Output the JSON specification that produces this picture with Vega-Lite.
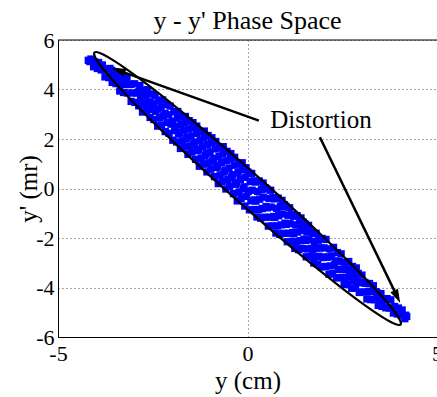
{
"$schema":"https://vega.github.io/schema/vega-lite/v6.json",
"width":379,"height":297,
"autosize":{"type":"none"},
"padding":{"left":58,"top":40,"right":0,"bottom":60},
"background":"white",
"title":{"text":"y - y' Phase Space","font":"Liberation Serif","fontSize":26,"fontWeight":"normal","color":"black","anchor":"middle","frame":"group","offset":-5},
"config":{"view":{"stroke":null},
"axis":{"grid":true,"gridColor":"#000","gridDash":[1,3],"gridWidth":1,"gridOpacity":0.7,"domainColor":"black","domainWidth":1,"ticks":false,"labelFont":"Liberation Serif","labelFontSize":22,"labelColor":"black","labelFlush":false,"labelOverlap":false,"labelExpr":"toString(datum.value)","titleFont":"Liberation Serif","titleFontSize":25,"titleFontWeight":"normal","titleColor":"black"}},
"datasets":{
"pts":[
{"x":0.05,"y":-0.86},{"x":0.09,"y":-0.50},{"x":0.02,"y":-0.11},{"x":0.07,"y":0.28},{"x":0.01,"y":0.66},
{"x":0.15,"y":-0.85},{"x":0.19,"y":-0.46},{"x":0.12,"y":-0.07},{"x":0.17,"y":0.31},{"x":0.11,"y":0.61},
{"x":0.25,"y":-1.15},{"x":0.29,"y":-0.85},{"x":0.22,"y":-0.51},{"x":0.27,"y":-0.12},{"x":0.21,"y":0.26},
{"x":0.35,"y":-1.20},{"x":0.39,"y":-0.81},{"x":0.32,"y":-0.43},{"x":0.37,"y":-0.04},{"x":0.31,"y":0.30},
{"x":0.45,"y":-1.16},{"x":0.49,"y":-0.73},{"x":0.42,"y":-0.35},{"x":0.47,"y":0.03},{"x":0.41,"y":0.22},
{"x":0.55,"y":-1.52},{"x":0.59,"y":-1.16},{"x":0.52,"y":-0.78},{"x":0.57,"y":-0.40},{"x":0.51,"y":-0.02},
{"x":0.65,"y":-1.51},{"x":0.69,"y":-1.13},{"x":0.62,"y":-0.75},{"x":0.67,"y":-0.37},{"x":0.61,"y":-0.07},
{"x":0.75,"y":-1.80},{"x":0.79,"y":-1.51},{"x":0.72,"y":-1.17},{"x":0.77,"y":-0.80},{"x":0.71,"y":-0.42},
{"x":0.85,"y":-1.85},{"x":0.89,"y":-1.47},{"x":0.82,"y":-1.10},{"x":0.87,"y":-0.73},{"x":0.81,"y":-0.39},
{"x":0.95,"y":-1.81},{"x":0.99,"y":-1.40},{"x":0.92,"y":-1.03},{"x":0.97,"y":-0.66},{"x":0.91,"y":-0.48},
{"x":1.05,"y":-2.15},{"x":1.09,"y":-1.81},{"x":1.02,"y":-1.45},{"x":1.07,"y":-1.08},{"x":1.01,"y":-0.72},
{"x":1.15,"y":-2.14},{"x":1.19,"y":-1.78},{"x":1.12,"y":-1.42},{"x":1.17,"y":-1.06},{"x":1.11,"y":-0.78},
{"x":1.25,"y":-2.42},{"x":1.29,"y":-2.15},{"x":1.22,"y":-1.83},{"x":1.27,"y":-1.47},{"x":1.21,"y":-1.12},
{"x":1.35,"y":-2.47},{"x":1.39,"y":-2.11},{"x":1.32,"y":-1.76},{"x":1.37,"y":-1.41},{"x":1.31,"y":-1.10},
{"x":1.45,"y":-2.43},{"x":1.49,"y":-2.05},{"x":1.42,"y":-1.70},{"x":1.47,"y":-1.36},{"x":1.41,"y":-1.19},
{"x":1.55,"y":-2.76},{"x":1.59,"y":-2.44},{"x":1.52,"y":-2.10},{"x":1.57,"y":-1.76},{"x":1.51,"y":-1.42},
{"x":1.65,"y":-2.75},{"x":1.69,"y":-2.42},{"x":1.62,"y":-2.08},{"x":1.67,"y":-1.75},{"x":1.61,"y":-1.49},
{"x":1.75,"y":-3.01},{"x":1.79,"y":-2.76},{"x":1.72,"y":-2.47},{"x":1.77,"y":-2.14},{"x":1.71,"y":-1.81},
{"x":1.85,"y":-3.06},{"x":1.89,"y":-2.74},{"x":1.82,"y":-2.41},{"x":1.87,"y":-2.09},{"x":1.81,"y":-1.81},
{"x":1.95,"y":-3.17},{"x":1.99,"y":-2.79},{"x":1.92,"y":-2.40},{"x":1.97,"y":-2.02},
{"x":2.05,"y":-3.15},{"x":2.09,"y":-2.77},{"x":2.02,"y":-2.40},{"x":2.07,"y":-2.06},
{"x":2.15,"y":-3.46},{"x":2.19,"y":-3.13},{"x":2.12,"y":-2.77},{"x":2.17,"y":-2.44},
{"x":2.25,"y":-3.44},{"x":2.29,"y":-3.09},{"x":2.22,"y":-2.73},{"x":2.27,"y":-2.38},
{"x":2.35,"y":-3.61},{"x":2.39,"y":-3.27},{"x":2.32,"y":-2.93},{"x":2.37,"y":-2.59},
{"x":2.45,"y":-3.60},{"x":2.49,"y":-3.27},{"x":2.42,"y":-2.94},{"x":2.47,"y":-2.64},
{"x":2.55,"y":-3.88},{"x":2.59,"y":-3.59},{"x":2.52,"y":-3.27},{"x":2.57,"y":-2.98},
{"x":2.65,"y":-3.87},{"x":2.69,"y":-3.56},{"x":2.62,"y":-3.26},{"x":2.67,"y":-2.95},
{"x":2.75,"y":-4.03},{"x":2.79,"y":-3.73},{"x":2.72,"y":-3.44},{"x":2.77,"y":-3.15},
{"x":2.85,"y":-4.03},{"x":2.89,"y":-3.75},{"x":2.82,"y":-3.47},{"x":2.87,"y":-3.21},
{"x":2.95,"y":-4.20},{"x":2.99,"y":-3.81},{"x":2.92,"y":-3.43},
{"x":3.05,"y":-4.18},{"x":3.09,"y":-3.80},{"x":3.02,"y":-3.50},
{"x":3.15,"y":-4.46},{"x":3.19,"y":-4.16},{"x":3.12,"y":-3.83},
{"x":3.25,"y":-4.49},{"x":3.29,"y":-4.17},{"x":3.22,"y":-3.84},
{"x":3.35,"y":-4.49},{"x":3.39,"y":-4.17},{"x":3.32,"y":-3.93},
{"x":3.45,"y":-4.72},{"x":3.49,"y":-4.48},{"x":3.42,"y":-4.22},
{"x":3.55,"y":-4.76},{"x":3.59,"y":-4.51},{"x":3.52,"y":-4.25},
{"x":3.65,"y":-4.82},{"x":3.68,"y":-4.45},
{"x":3.75,"y":-4.83},{"x":3.78,"y":-4.50},
{"x":3.85,"y":-5.03},{"x":3.88,"y":-4.77},
{"x":3.95,"y":-5.07},{"x":3.98,"y":-4.83},
{"x":4.05,"y":-5.11},{"x":4.08,"y":-4.91},
{"x":4.15,"y":-5.26},{"x":4.17,"y":-5.12},{"x":4.2,"y":-5.17},
{"x":-0.07,"y":-0.71},{"x":-0.02,"y":-0.32},{"x":-0.09,"y":0.07},{"x":-0.05,"y":0.45},{"x":-0.04,"y":0.84},
{"x":-0.17,"y":-0.40},{"x":-0.12,"y":-0.01},{"x":-0.19,"y":0.37},{"x":-0.15,"y":0.76},{"x":-0.14,"y":1.04},
{"x":-0.27,"y":-0.50},{"x":-0.22,"y":-0.14},{"x":-0.29,"y":0.25},{"x":-0.25,"y":0.64},{"x":-0.24,"y":1.02},
{"x":-0.37,"y":-0.21},{"x":-0.32,"y":0.17},{"x":-0.39,"y":0.56},{"x":-0.35,"y":0.94},{"x":-0.34,"y":1.26},
{"x":-0.47,"y":0.09},{"x":-0.42,"y":0.44},{"x":-0.49,"y":0.82},{"x":-0.45,"y":1.20},{"x":-0.44,"y":1.41},
{"x":-0.57,"y":-0.02},{"x":-0.52,"y":0.36},{"x":-0.59,"y":0.74},{"x":-0.55,"y":1.12},{"x":-0.54,"y":1.50},
{"x":-0.67,"y":0.28},{"x":-0.62,"y":0.66},{"x":-0.69,"y":1.04},{"x":-0.65,"y":1.42},{"x":-0.64,"y":1.69},
{"x":-0.77,"y":0.20},{"x":-0.72,"y":0.55},{"x":-0.79,"y":0.92},{"x":-0.75,"y":1.30},{"x":-0.74,"y":1.68},
{"x":-0.87,"y":0.48},{"x":-0.82,"y":0.85},{"x":-0.89,"y":1.22},{"x":-0.85,"y":1.60},{"x":-0.84,"y":1.90},
{"x":-0.97,"y":0.78},{"x":-0.92,"y":1.11},{"x":-0.99,"y":1.48},{"x":-0.95,"y":1.85},{"x":-0.94,"y":2.05},
{"x":-1.07,"y":0.67},{"x":-1.02,"y":1.04},{"x":-1.09,"y":1.41},{"x":-1.05,"y":1.77},{"x":-1.04,"y":2.14},
{"x":-1.17,"y":0.98},{"x":-1.12,"y":1.34},{"x":-1.19,"y":1.70},{"x":-1.15,"y":2.06},{"x":-1.14,"y":2.32},
{"x":-1.27,"y":0.90},{"x":-1.22,"y":1.23},{"x":-1.29,"y":1.59},{"x":-1.25,"y":1.95},{"x":-1.24,"y":2.30},
{"x":-1.37,"y":1.18},{"x":-1.32,"y":1.53},{"x":-1.39,"y":1.88},{"x":-1.35,"y":2.23},{"x":-1.34,"y":2.52},
{"x":-1.47,"y":1.47},{"x":-1.42,"y":1.78},{"x":-1.49,"y":2.12},{"x":-1.45,"y":2.47},{"x":-1.44,"y":2.66},
{"x":-1.57,"y":1.38},{"x":-1.52,"y":1.72},{"x":-1.59,"y":2.06},{"x":-1.55,"y":2.40},{"x":-1.54,"y":2.74},
{"x":-1.67,"y":1.67},{"x":-1.62,"y":2.01},{"x":-1.69,"y":2.34},{"x":-1.65,"y":2.67},{"x":-1.64,"y":2.91},
{"x":-1.77,"y":1.62},{"x":-1.72,"y":1.92},{"x":-1.79,"y":2.25},{"x":-1.75,"y":2.58},{"x":-1.74,"y":2.90},
{"x":-1.87,"y":1.88},{"x":-1.82,"y":2.20},{"x":-1.89,"y":2.52},{"x":-1.85,"y":2.84},{"x":-1.84,"y":3.11},
{"x":-1.97,"y":1.95},{"x":-1.92,"y":2.34},{"x":-1.98,"y":2.72},{"x":-1.94,"y":3.10},
{"x":-2.07,"y":2.23},{"x":-2.02,"y":2.60},{"x":-2.08,"y":2.98},{"x":-2.04,"y":3.33},
{"x":-2.17,"y":2.30},{"x":-2.12,"y":2.67},{"x":-2.18,"y":3.03},{"x":-2.14,"y":3.39},
{"x":-2.27,"y":2.57},{"x":-2.22,"y":2.93},{"x":-2.28,"y":3.28},{"x":-2.24,"y":3.58},
{"x":-2.37,"y":2.52},{"x":-2.32,"y":2.87},{"x":-2.38,"y":3.21},{"x":-2.34,"y":3.55},
{"x":-2.47,"y":2.79},{"x":-2.42,"y":3.12},{"x":-2.48,"y":3.45},{"x":-2.44,"y":3.76},
{"x":-2.57,"y":2.87},{"x":-2.52,"y":3.19},{"x":-2.58,"y":3.50},{"x":-2.54,"y":3.82},
{"x":-2.67,"y":3.12},{"x":-2.62,"y":3.43},{"x":-2.68,"y":3.73},{"x":-2.64,"y":3.99},
{"x":-2.77,"y":3.09},{"x":-2.72,"y":3.39},{"x":-2.78,"y":3.68},{"x":-2.74,"y":3.97},
{"x":-2.87,"y":3.34},{"x":-2.82,"y":3.62},{"x":-2.88,"y":3.90},{"x":-2.84,"y":4.16},
{"x":-2.97,"y":3.48},{"x":-2.92,"y":3.86},{"x":-2.98,"y":4.23},
{"x":-3.07,"y":3.52},{"x":-3.02,"y":3.86},{"x":-3.08,"y":4.21},
{"x":-3.17,"y":3.86},{"x":-3.12,"y":4.20},{"x":-3.18,"y":4.46},
{"x":-3.27,"y":3.88},{"x":-3.22,"y":4.21},{"x":-3.28,"y":4.51},
{"x":-3.37,"y":3.94},{"x":-3.32,"y":4.22},{"x":-3.38,"y":4.50},
{"x":-3.47,"y":4.24},{"x":-3.42,"y":4.52},{"x":-3.48,"y":4.72},
{"x":-3.57,"y":4.29},{"x":-3.52,"y":4.54},{"x":-3.58,"y":4.77},
{"x":-3.66,"y":4.48},{"x":-3.63,"y":4.85},
{"x":-3.76,"y":4.51},{"x":-3.73,"y":4.83},
{"x":-3.86,"y":4.79},{"x":-3.83,"y":4.99},
{"x":-3.96,"y":4.85},{"x":-3.93,"y":5.09},
{"x":-4.06,"y":4.92},{"x":-4.03,"y":5.11},
{"x":-4.16,"y":5.13},{"x":-4.13,"y":5.23},{"x":-4.2,"y":5.18}
],
"ell":[
{"t":0,"x":4.05,"y":-5.45},{"t":1,"x":3.988,"y":-5.219},{"t":2,"x":3.806,"y":-4.830},{"t":3,"x":3.507,"y":-4.295},
{"t":4,"x":3.102,"y":-3.629},{"t":5,"x":2.603,"y":-2.852},{"t":6,"x":2.025,"y":-1.989},{"t":7,"x":1.385,"y":-1.065},
{"t":8,"x":0.703,"y":-0.109},{"t":9,"x":0,"y":0.85},{"t":10,"x":-0.703,"y":1.783},{"t":11,"x":-1.385,"y":2.663},
{"t":12,"x":-2.025,"y":3.461},{"t":13,"x":-2.603,"y":4.154},{"t":14,"x":-3.102,"y":4.721},{"t":15,"x":-3.507,"y":5.145},
{"t":16,"x":-3.806,"y":5.412},{"t":17,"x":-3.988,"y":5.515},{"t":18,"x":-4.05,"y":5.45},{"t":19,"x":-3.988,"y":5.219},
{"t":20,"x":-3.806,"y":4.830},{"t":21,"x":-3.507,"y":4.295},{"t":22,"x":-3.102,"y":3.629},{"t":23,"x":-2.603,"y":2.852},
{"t":24,"x":-2.025,"y":1.989},{"t":25,"x":-1.385,"y":1.065},{"t":26,"x":-0.703,"y":0.109},{"t":27,"x":0,"y":-0.85},
{"t":28,"x":0.703,"y":-1.783},{"t":29,"x":1.385,"y":-2.663},{"t":30,"x":2.025,"y":-3.461},{"t":31,"x":2.603,"y":-4.154},
{"t":32,"x":3.102,"y":-4.721},{"t":33,"x":3.507,"y":-5.145},{"t":34,"x":3.806,"y":-5.412},{"t":35,"x":3.988,"y":-5.515}
],
"arrows":[
{"id":1,"x1":0.30,"y1":2.74,"x2":-3.39,"y2":4.76,"tx":-3.58,"ty":4.87},
{"id":2,"x1":1.91,"y1":2.07,"x2":3.94,"y2":-4.34,"tx":4.03,"ty":-4.63}
],
"label":[{"x":0.6,"y":2.43,"text":"Distortion"}]
},
"layer":[
{"data":{"name":"pts"},
"mark":{"type":"point","shape":"square","filled":true,"size":54,"color":"#0000ff","opacity":1},
"encoding":{
"x":{"field":"x","type":"quantitative","scale":{"domain":[-5,5],"nice":false,"zero":false},"axis":{"values":[-5,0,5],"title":"y (cm)","labelPadding":6,"titlePadding":4}},
"y":{"field":"y","type":"quantitative","scale":{"domain":[-6,6],"nice":false,"zero":false},"axis":{"values":[-6,-4,-2,0,2,4,6],"title":"y' (mr)","labelPadding":4,"titlePadding":-6}}}},
{"data":{"name":"ell"},
"mark":{"type":"line","color":"black","strokeWidth":2.2,"interpolate":"cardinal-closed"},
"encoding":{"x":{"field":"x","type":"quantitative"},"y":{"field":"y","type":"quantitative"},"order":{"field":"t","type":"quantitative"}}},
{"data":{"name":"arrows"},
"mark":{"type":"rule","color":"black","strokeWidth":2.5},
"encoding":{"x":{"field":"x1","type":"quantitative"},"y":{"field":"y1","type":"quantitative"},"x2":{"field":"x2"},"y2":{"field":"y2"}}},
{"data":{"name":"arrows"},"transform":[{"filter":"datum.id == 1"}],
"mark":{"type":"point","shape":"M0,0L-0.6,2L0.6,2Z","filled":true,"size":196,"color":"black","opacity":1,"angle":289.7},
"encoding":{"x":{"field":"tx","type":"quantitative"},"y":{"field":"ty","type":"quantitative"}}},
{"data":{"name":"arrows"},"transform":[{"filter":"datum.id == 2"}],
"mark":{"type":"point","shape":"M0,0L-0.6,2L0.6,2Z","filled":true,"size":196,"color":"black","opacity":1,"angle":154.2},
"encoding":{"x":{"field":"tx","type":"quantitative"},"y":{"field":"ty","type":"quantitative"}}},
{"data":{"name":"label"},
"mark":{"type":"text","align":"left","baseline":"alphabetic","font":"Liberation Serif","fontSize":25,"color":"black"},
"encoding":{"x":{"field":"x","type":"quantitative"},"y":{"field":"y","type":"quantitative"},"text":{"field":"text"}}},
{"data":{"values":[{}]},
"mark":{"type":"rule","color":"black","strokeWidth":1},
"encoding":{"y":{"datum":6}}}
]
}
